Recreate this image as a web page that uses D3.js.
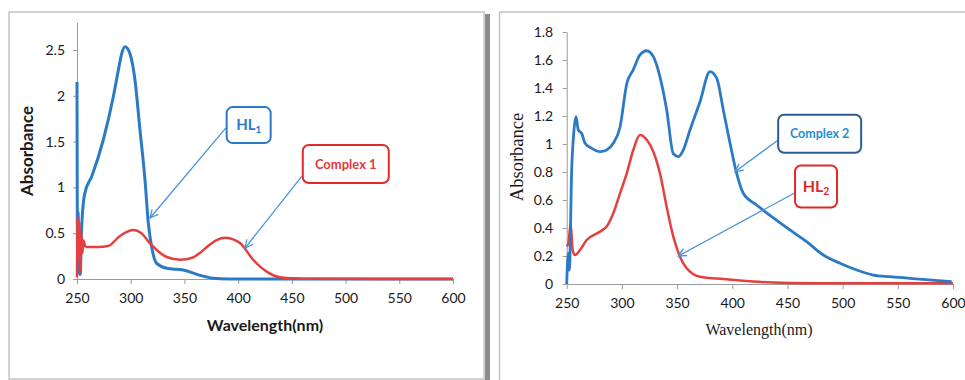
<!DOCTYPE html>
<html>
<head>
<meta charset="utf-8">
<script src="https://cdn.jsdelivr.net/npm/d3@7"></script>
<style>
  body { margin: 0; background: #fff; }
  svg { display: block; }
</style>
</head>
<body>
<svg id="chart" width="965" height="380"></svg>
<script>
'use strict';

// ---- data (wavelength nm, absorbance) ----
const wavelengthTicks = [250, 300, 350, 400, 450, 500, 550, 600];
const leftAbsTicks = [0, 0.5, 1, 1.5, 2, 2.5];
const rightAbsTicks = [0, 0.2, 0.4, 0.6, 0.8, 1, 1.2, 1.4, 1.6, 1.8];

const hl1 = [[250,2.15],[250.5,0.3],[251,0.73],[252,0.08],[253,0.05],[254.3,0.55],[255.9,0.83],
  [257.4,0.94],[263.7,1.12],[274.5,1.52],[283.8,1.99],[288.5,2.28],[291.6,2.46],[294.7,2.536],
  [299.3,2.46],[304,2.17],[308.6,1.63],[313.3,1.08],[316.4,0.61],[319.5,0.35],[324.2,0.17],
  [333.5,0.117],[349,0.098],[364.5,0.04],[376.6,0.008],[390,0],[600,0]];

const complex1 = [[250,0.02],[250.6,0.68],[251.4,0.25],[252.2,0.62],[253,0.08],[254,0.5],[255,0.28],
  [256,0.42],[257.5,0.36],[259,0.35],[270,0.35],[279,0.36],[290,0.47],[302.4,0.535],[310,0.5],
  [318,0.39],[333.5,0.24],[346,0.21],[358,0.235],[365,0.29],[372,0.36],[380,0.425],[388,0.45],
  [396,0.43],[402,0.39],[414,0.21],[426.6,0.08],[439,0.018],[451,0.008],[470,0.002],[600,0]];

const complex2 = [[250,0],[251.5,0.22],[252.4,0.1],[254.5,0.81],[256.6,1.1],[258.4,1.195],[260.5,1.1],
  [263.6,1.076],[266.6,1.005],[272.6,0.97],[280.2,0.945],[286.2,0.957],[292.2,1.005],[298.3,1.12],
  [304.4,1.43],[310.3,1.53],[316.4,1.636],[322.5,1.666],[328.5,1.624],[334.5,1.48],[340.6,1.243],
  [346.6,0.93],[351.1,0.91],[355.6,0.957],[361.7,1.1],[370.7,1.3],[379.8,1.517],[385.9,1.47],
  [391.9,1.243],[398,1.005],[404,0.79],[410,0.648],[422.1,0.564],[434.2,0.49],[452.3,0.386],
  [467.4,0.302],[482.5,0.207],[497.6,0.148],[512.7,0.1],[527.8,0.064],[542.9,0.052],[573.1,0.033],
  [598.8,0.017]];

const hl2 = [[250,0.27],[251.5,0.29],[253.6,0.43],[255.4,0.24],[257.5,0.207],[262,0.243],[268.1,0.314],
  [280.2,0.374],[286.2,0.41],[292.2,0.505],[298.3,0.648],[304.4,0.79],[310.3,0.957],[316.4,1.064],
  [322.5,1.03],[328.5,0.945],[334.5,0.79],[340.6,0.55],[346.6,0.338],[352.6,0.195],[358.7,0.112],
  [370.7,0.052],[391.9,0.035],[407,0.025],[437,0.01],[470,0.005],[600,0.005]];

// callouts: box centre, arrow start and arrow tip, all in data units
const leftNotes = [
  { label: 'HL', sub: '1', at: [409.8, 1.68], from: [388.6, 1.65], to: [318, 0.666], w: 44, h: 36,
    stroke: '#2a7ac6', fill: '#2a7ac6', size: 15 },
  { label: 'Complex 1', sub: '', at: [500.2, 1.255], from: [459.4, 1.124], to: [406.4, 0.338], w: 86, h: 38,
    stroke: '#e02a2a', fill: '#e53a3a', size: 13 }
];
const rightNotes = [
  { label: 'Complex 2', sub: '', at: [479.2, 1.073], from: [441.7, 1.029], to: [402.5, 0.802], w: 83, h: 38,
    stroke: '#2c5d94', fill: '#1e90d6', size: 12.5 },
  { label: 'HL', sub: '2', at: [475.9, 0.696], from: [456.9, 0.652], to: [351.1, 0.2], w: 42, h: 42,
    stroke: '#e02a2a', fill: '#e02a2a', size: 16 }
];

const BLUE = '#2a7ac6';
const RED = '#e5403f';
const ARROW = '#4a94d6';

const svg = d3.select('#chart');

// panel frames and the shadow between them
svg.append('rect').attr('x', 9).attr('y', 12).attr('width', 475).attr('height', 367)
  .attr('fill', '#fff').attr('stroke', '#c4c4c4').attr('stroke-width', 1.5);
svg.append('rect').attr('x', 485).attr('y', 14).attr('width', 5).attr('height', 366).attr('fill', '#8c8c8c');
svg.append('rect').attr('x', 499.5).attr('y', 12).attr('width', 480).attr('height', 380)
  .attr('fill', '#fff').attr('stroke', '#c4c4c4').attr('stroke-width', 1.5);

// arrow marker (open V)
svg.append('defs').append('marker')
  .attr('id', 'arrowhead')
  .attr('viewBox', '0 0 10 10')
  .attr('refX', 9).attr('refY', 5)
  .attr('markerWidth', 10).attr('markerHeight', 10)
  .attr('markerUnits', 'userSpaceOnUse')
  .attr('orient', 'auto')
  .append('path')
  .attr('d', 'M1,1 L9,5 L1,9')
  .attr('fill', 'none').attr('stroke', ARROW).attr('stroke-width', 1.3);

function drawPanel (cfg) {
  const g = svg.append('g');

  const x = d3.scaleLinear().domain([250, 600]).range(cfg.xRange);
  const y = d3.scaleLinear().domain([0, cfg.yMax]).range(cfg.yRange);

  // axes
  const xAxis = g.append('g')
    .attr('transform', `translate(0,${cfg.yRange[0]})`)
    .call(d3.axisBottom(x).tickValues(wavelengthTicks).tickSize(5).tickSizeOuter(0).tickPadding(cfg.xPad));
  const yAxis = g.append('g')
    .attr('transform', `translate(${cfg.xRange[0]},0)`)
    .call(d3.axisLeft(y).tickValues(cfg.yTicks).tickSize(4).tickSizeOuter(0).tickPadding(cfg.yPad)
      .tickFormat(d => +d.toFixed(1)));

  [xAxis, yAxis].forEach(a => {
    a.select('.domain').attr('stroke', '#9a9a9a');
    a.selectAll('.tick line').attr('stroke', '#9a9a9a');
    a.selectAll('.tick text')
      .attr('fill', '#1a1a1a')
      .style('font-family', 'Lato, sans-serif')
      .style('font-size', '14px');
  });

  // axis titles
  g.append('text')
    .attr('x', cfg.xTitle[0]).attr('y', cfg.xTitle[1])
    .attr('text-anchor', 'middle')
    .style('font-family', cfg.titleFont).style('font-weight', cfg.titleWeight)
    .style('font-size', cfg.xTitleSize + 'px').attr('fill', '#1a1a1a')
    .text('Wavelength(nm)');
  g.append('text')
    .attr('transform', `translate(${cfg.yTitle[0]},${cfg.yTitle[1]}) rotate(-90)`)
    .attr('text-anchor', 'middle')
    .style('font-family', cfg.titleFont).style('font-weight', cfg.titleWeight)
    .style('font-size', cfg.yTitleSize + 'px').attr('fill', '#1a1a1a')
    .text('Absorbance');

  // spectra
  const line = d3.line()
    .x(d => x(d[0]))
    .y(d => y(d[1]))
    .curve(d3.curveMonotoneX);

  cfg.series.forEach(s => {
    g.append('path')
      .datum(s.data)
      .attr('fill', 'none')
      .attr('stroke', s.color)
      .attr('stroke-width', s.width)
      .attr('stroke-linejoin', 'round')
      .attr('d', line);
  });

  // callouts
  cfg.notes.forEach(n => {
    g.append('line')
      .attr('x1', x(n.from[0])).attr('y1', y(n.from[1]))
      .attr('x2', x(n.to[0])).attr('y2', y(n.to[1]))
      .attr('stroke', ARROW).attr('stroke-width', 1.3)
      .attr('marker-end', 'url(#arrowhead)');

    const cx = x(n.at[0]);
    const cy = y(n.at[1]);
    g.append('rect')
      .attr('x', cx - n.w / 2).attr('y', cy - n.h / 2)
      .attr('width', n.w).attr('height', n.h)
      .attr('rx', 6)
      .attr('fill', '#fff').attr('stroke', n.stroke).attr('stroke-width', 2);

    const t = g.append('text')
      .attr('x', cx).attr('y', cy)
      .attr('dy', '0.35em')
      .attr('text-anchor', 'middle')
      .style('font-family', 'Lato, sans-serif').style('font-weight', 'bold')
      .style('font-size', n.size + 'px')
      .attr('fill', n.fill);
    t.append('tspan').text(n.label);
    if (n.sub) {
      t.append('tspan').attr('dy', '0.3em').style('font-size', (n.size * 0.65) + 'px').text(n.sub);
    }
  });
}

drawPanel({
  xRange: [77, 453], yRange: [279, 22.5], yMax: 2.8, yTicks: leftAbsTicks,
  xPad: 9, yPad: 8,
  titleFont: 'Lato, sans-serif', titleWeight: 'bold',
  xTitle: [265, 331], xTitleSize: 16,
  yTitle: [33, 151], yTitleSize: 17,
  series: [
    { data: hl1, color: BLUE, width: 3 },
    { data: complex1, color: RED, width: 2.5 }
  ],
  notes: leftNotes
});

drawPanel({
  xRange: [566.7, 953], yRange: [284, 32], yMax: 1.8, yTicks: rightAbsTicks,
  xPad: 9, yPad: 9.5,
  titleFont: '"Liberation Serif", "Times New Roman", serif', titleWeight: 'normal',
  xTitle: [759, 335], xTitleSize: 16,
  yTitle: [523, 157], yTitleSize: 18.5,
  series: [
    { data: hl2, color: RED, width: 2.5 },
    { data: complex2, color: BLUE, width: 2.8 }
  ],
  notes: rightNotes
});
</script>
</body>
</html>
